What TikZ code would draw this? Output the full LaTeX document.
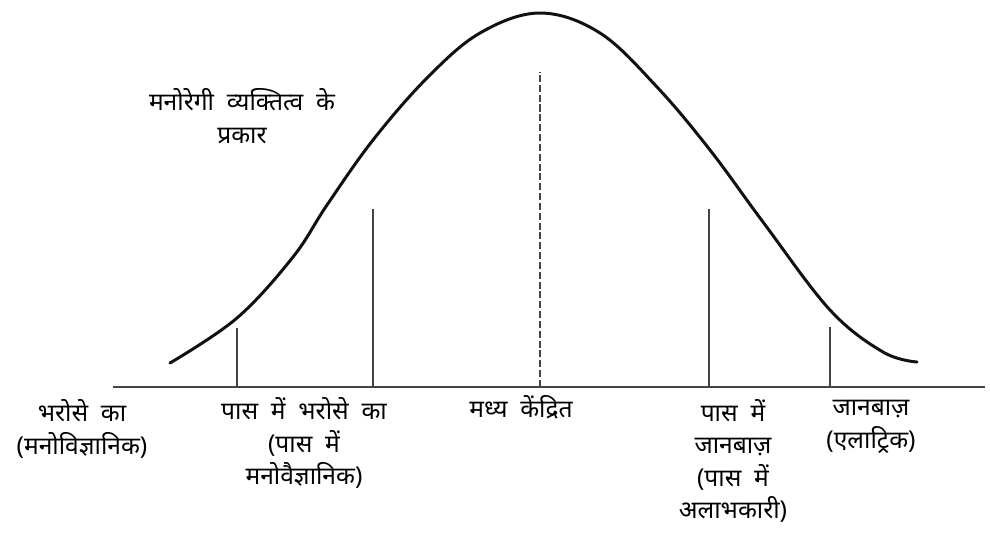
\documentclass[tikz,border=0pt]{standalone}
\usepackage{fontspec}
\setmainfont[Script=Devanagari, WordSpace=2]{Noto Sans}
\usepackage{xcolor}
\usetikzlibrary{positioning}
\definecolor{CurveBlack}{HTML}{111111}
\definecolor{AxisGray}{HTML}{454545}
\tikzset{
    % Curve and axis styles
    bell curve/.style={
        draw=CurveBlack,
        line width=1.7pt,
        line cap=round
    },
    axis line/.style={
        draw=AxisGray,
        line width=1.3pt
    },
    marker line/.style={
        draw=AxisGray,
        line width=1.2pt
    },
    centre line/.style={
        draw=AxisGray,
        line width=1.6pt,
        dash pattern=on 4pt off 1.6pt
    },
    % Text labels
    type label/.style={
        inner sep=0pt,
        align=center,
        font=\fontsize{14}{18.5}\selectfont
    }
}

\begin{document}
\begin{tikzpicture}[x=0.02cm, y=-0.02cm]
        \useasboundingbox (0,0) rectangle (990,539);

        % Baseline
        \coordinate (axisL) at (113,387);
        \coordinate (axisR) at (985,387);
        \draw[axis line] (axisL) -- (axisR);

        % Bell curve
        \draw[bell curve] plot[smooth, tension=0.6] coordinates {
            (170,363) (237,318) (293,257) (327,205) (373,140) (427,78)
            (480,33) (540,13) (600,33) (657,87) (710,150) (763,222)
            (830,310) (883,352) (917,362)
        };

        % Markers on the baseline
        \coordinate (m1) at (237,387);
        \coordinate (m2) at (373,387);
        \coordinate (m3) at (540,387);
        \coordinate (m4) at (709,387);
        \coordinate (m5) at (830,387);
        \draw[marker line] (m1) -- ++(0,-59);
        \draw[marker line] (m2) -- ++(0,-178);
        \draw[centre line] (m3) -- ++(0,-315);
        \draw[marker line] (m4) -- ++(0,-178);
        \draw[marker line] (m5) -- ++(0,-60);

        % Labels
        \node[type label] (title) at (242,116) {मनोरेगी व्यक्तित्व के\\प्रकार};
        \node[type label] (far left) at (82,429) {भरोसे का\\(मनोविज्ञानिक)};
        \node[type label] (near left) at (304,443) {पास में भरोसे का\\(पास में\\मनोवैज्ञानिक)};
        \node[type label] (middle) at (521,407) {मध्य केंद्रित};
        \node[type label] (near right) at (733,461) {पास में\\जानबाज़\\(पास में\\अलाभकारी)};
        \node[type label] (far right) at (871,427) {जानबाज़\\(एलाट्रिक)};
    \end{tikzpicture}
\end{document}
